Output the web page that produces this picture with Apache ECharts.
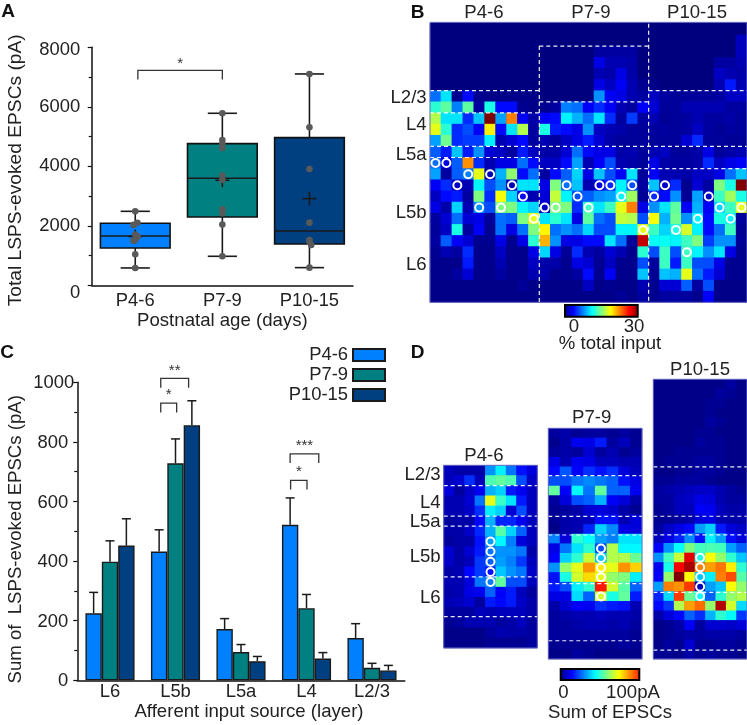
<!DOCTYPE html>
<html><head><meta charset="utf-8">
<style>html,body{margin:0;padding:0;background:#fff}#c{width:747px;height:725px}</style>
<script src="https://cdn.jsdelivr.net/npm/echarts@6/dist/echarts.min.js"></script>
</head><body><div id="c"></div>
<script>
// ---------- Panel A ----------
const ageGroups = ['P4-6','P7-9','P10-15'];
const ageColors = ['#0080ff','#008080','#004080'];
// [x, min, q1, median, q3, max, mean]
const boxP46  = [1, 583, 1255, 1658, 2084, 2487, 1640];
const boxP79  = [2, 975, 2297, 3597, 4762, 5782, 3530];
const boxP1015= [3, 594, 1390, 1826, 4964, 7104, 2913];
const dotsA = [
 [1,2487],[1.025,2100],[0.98,2030],[1,1710],[1.03,1640],[1,1530],[0.98,1500],[1,1042],[1,583],
 [2,5782],[2,4885],[2,4750],[2,4616],[2,3686],[2,3540],[2,2555],[2,2420],[2,2040],[2,975],
 [3,7104],[3,5311],[3,3910],[3,2106],[3,1524],[3,1468],[3.02,1356],[3,594]];
const bracketA = [[1.03,2.0,7227,6914,'*']];

// ---------- Panel C ----------
const layersC = ['L6','L5b','L5a','L4','L2/3'];
const sumP46   = [225,432,172,522,142];
const sumP79   = [398,728,95,242,42];
const sumP1015 = [452,856,64,73,33];
const topP46   = [295,505,207,612,190];
const topP79   = [468,810,120,288,57];
const topP1015 = [542,938,80,93,50];
// [category, fromBar, toBar, top value, bottom value, label]
const bracketsC = [[1,0.1,1.8,1013,982,'**'],[1,0.1,1.07,930,899,'*'],[3,0,1.75,760,729,'***'],[3,0.03,1.03,671,640,'*']];

// ---------- Panel B: % total input, 25 rows x 29 cols ----------
const mapB = [
[0,0,0,0,0,0,0,0,0,0, 0,0,0,0,0,0,0,0,0,0, 0,0,0,0,0,0,0,0,0],
[0,0,0,0,0,0,0,0,0,0, 0,0,0,0,0,0,0,0,0,0, 0,0,0,0,0,0,0,0,1.8],
[0,0,0,0,0,0,0,0,0,0, 0,0,0,0,0,1,1,1,1,0, 0,0,0,0,0,0,0,0,1.8],
[0,0,0,0,0,0,0,0,0,0, 0,0,0,0,0,3,1.5,1.5,1.2,0, 0,0,0,0,0,0,1,1,1.5],
[0,0,0,0,0,0,0,0,0,0, 0,0,0,0,0,1.5,1.2,3,1.2,0, 0,0,0,0,0,0,2,1.5,1.2],
[0,0,0,0,0,0,0,0,0,0, 0,0,0,0,0,3,2,3.5,1.5,0.5, 0.3,0,0,0,0,0,1.5,4.5,1.5],
[7,10.5,0.5,4,0.5,0.3,0.3,0.3,0.3,0.3, 0,0,0,0,0,8,3.5,3,1.5,1, 2,1,0.8,0.8,0.8,0.8,1,2,2],
[12.5,14,7.5,14,1,12,4,4,0.5,0.3, 0.5,1,7.5,7,3.5,5,3.5,1.5,1,3.5, 2.5,0.8,0.8,1.5,1.5,1.5,1.5,1,1],
[16.5,10.5,10.5,5,9.5,30,8.5,22.5,3.5,1.2, 3.5,4,11,9,7,10.5,5,1,5.5,1, 1.5,0.7,0.8,1,1.5,1,1,1.2,0.8],
[18,12.5,5,6,3.5,19.2,4,10.5,16.5,1, 12,4.5,4,3,8,2,1.5,1.2,0.8,0.8, 1,1,0.8,1,2,1,0.7,1,0.8],
[8.5,14.5,5,5.5,5.5,10.8,1.5,2.5,4,1, 1.5,1,2,3,4.5,2.5,1.2,0.8,0.8,0.8, 0.8,0.8,0.8,2.5,5,0.8,0.8,0.7,0.7],
[6.5,4.5,9.5,4.5,8,2.5,2,1,4.5,2, 1.2,1.2,2.5,7,4,3,3,1.2,1.5,0.8, 1.5,2,0.8,0.8,1.2,3,0.8,1.2,1.5],
[7,3,6.5,22,5,1.5,3,3,7,4, 2,2,4,8.5,1.5,3.5,6,1.5,1.2,0.8, 3,1.2,1,1,1.2,5,2,3,3.5],
[8.5,1,6.5,7.5,18,1.5,9,15.5,4,7, 1,4,6.5,10,3,9.5,6,3.5,10.5,0.8, 3.5,1.5,1.5,1.2,2,2,3,7,9.5],
[3.5,5,2,1.5,11,6,8,1.5,10.5,10.5, 3,15,7,9.5,1.5,3,5,11,6,1, 9.5,2,5,0.5,2.5,1,15,12,30],
[2,4,4.5,1,15,5,18.5,10,4,1.5, 2.5,17,11,6,6.5,8,8.5,11,16,0.7, 5,4,8,0.7,8.5,2,13,16,12],
[3,1.2,10,1.5,8,6,15,15,11,10, 2,15,15,5,13,10.5,13,18,22.5,3, 8,10.5,14,3.5,9,3.5,10,13,18],
[1,2.5,7,2.5,3,0.8,7,6.5,15,18, 10.5,12.5,10.5,3,14,7,6,17,16.5,6, 18.5,9,14.5,8,11,4,12,11,0.8],
[0.8,2,12,1,3.5,0.5,7,3,7,15, 19,7,8,7,10,6,6,11,11,18, 13,10,12,17.5,11,4,7,13,0.6],
[1,6.5,3.5,2.5,0.5,0.5,3,0.5,3,12.5, 21,8,3,3,4,4,10.5,7,0.8,28, 11.5,11.5,11,13,15,5.5,8,8,0.7],
[0.6,1.5,1,5,0.4,0.4,2,0.4,0.4,3, 10,3,0.7,5,1.5,1,2.5,1.5,0.4,12.5, 6,13,6,13,11,8,10.5,3,0.5],
[0.4,0.4,0.4,4.5,0.4,0.4,1.5,0.4,0.4,2, 1.2,1.2,0.5,3,2.5,0.6,2,0.5,0.4,6, 1,13,4.5,13,6,6,3,0.5,0.5],
[0.4,0.4,1,2.5,0.4,0.4,1,0.4,0.4,1.5, 1.2,0.4,0.5,1,4,0.5,3.5,0.4,0.4,9.5, 0.6,9.5,9,18,7,4.5,2.5,0.5,0.5],
[0.3,0.3,0.3,0.3,0.3,0.3,0.3,0.3,0.7,0.3, 0.3,0.3,0.3,0.3,2,0.3,0.5,0.3,0.3,1.5, 0.5,2.5,2.5,6.5,1,6,0.3,0.3,0.3],
[0.3,0.3,0.3,0.3,0.3,0.3,0.3,0.3,0.3,0.3, 0.3,0.3,0.3,0.3,0.3,0.3,0.3,0.7,0.3,1, 0.5,1,1,1,0.5,3.5,0.3,0.3,0.3]];
const circlesB = [[0,12],[1,12],[3,13],[5,13],[2,14],[7,14],[12,14],[15,14],[16,14],[18,14],[21,14],[8,15],[13,15],[17,15],[20,15],[25,15],[4,16],[6,16],[10,16],[11,16],[14,16],[26,16],[28,16],[9,17],[24,17],[27,17],[19,18],[22,18],[23,20]];
const dashesB = [[0,6,10,6],[0,8,10,8],[0,11,29,11],[0,12,10,12],[10,2,20,2],[10,7,20,7],[10,13,29,13],[20,6,29,6],[10,2,10,25],[20,0,20,25]];

// ---------- Panel D: sum of EPSCs (pA) ----------
const mapD1 = [
[6,4,4,4,27,36,24,14,9],[6,8,17,6,45,47,45,20,7],[9,3,7,11,30,33,15,11,6],[5,5,8,24,60,43,35,15,6],
[5,5,7,17,36,33,8,20,6],[3,4,4,13,30,16,16,11,6],[4,4,7,16,30,46,33,22,6],[3,4,4,14,28,37,25,9,6],
[8,4,8,15,24,27,27,24,4],[7,4,6,18,22,28,25,18,6],[4,5,13,18,14,32,27,24,7],[5,5,9,24,25,47,20,20,6],
[4,5,10,11,22,12,15,6,3],[5,6,8,3,15,13,15,7,4],[3,3,3,6,5,6,6,6,4],[2,3,5,5,5,3,4,6,3],[1,1,1,1,3,5,4,4,3],[1,1,1,1,2,2,2,2,3]];
const mapD2 = [
[3,4,2,3,3,2,3,2],[1.5,4,11,10,15,3,6,2],[3,4,3,8,3,5,2,3],[10,5,11,10,6,6,5,5],[13,21,12,17,14,17,9,6],
[20,20,24,26,24,22,14,10],[47,12,37,24,47,22,22,11],[3,9,20,22,30,12,9,4],[2,3,4,8,9,8,4,2],[2,4,5,6,14,14,5,9],
[1,4,5,16,33,26,10,9],[25,9,42,38,28,25,35,35],[10,24,35,42,20,55,37,37],[12,33,42,57,32,55,55,48],
[27,52,60,73,64,60,73,67],[14,40,58,66,60,52,50,36],[15,20,36,42,85,58,46,22],[10,10,34,22,58,40,47,15],
[4,8,12,11,17,15,14,5],[3,4,5,5,6,5,5,4],[3,3,4,5,5,4,5,3],[3,3,3,3,3,3,3,2],[2,2,2,2,2,2,3,2],[1,1,3,2,1,1,1,1]];
const mapD3 = [
[1,1,1,1,1,1,1,3,1],[1,1,1,1,1,1,3,2,1],[1,1,1,1,1,2,2,1,1],[1,1,1,1,1,2,1,1,1],[1,1,1,1,1,3,2,1,1],
[1,1,1,1,2,2,1,1,1],[1,1,1,1,3,2,2,1,1],[1,1,2,2,2,2,2,1,1],[1,2,2,2,3,3,2,1,1],[1,1,2,2,3,3,2,1,1],
[2,2,3,3,3,2,1,1,1],[3,4,5,6,7,7,5,3,2],[3,3,6,7,10,9,5,3,3],[2,3,6,6,12,11,6,4,4],[2,2,3,4,9,10,5,4,4],
[3,7,10,13,28,33,15,9,7],[6,10,16,26,14,36,28,14,9],[12,27,38,50,44,45,44,28,22],[27,44,57,90,40,62,52,42,32],
[11,40,88,96,75,72,76,64,42],[12,52,100,63,32,36,75,80,46],[28,75,73,82,6,28,32,62,52],[16,34,82,48,38,22,42,52,55],
[13,18,55,72,77,52,95,58,34],[4,9,13,22,17,30,42,37,18],[1,2,4,12,3,8,8,7,9],[1,2,3,4,3,4,4,4,3],[1,3,2,8,2,2,3,3,2],[2,2,1,4,2,3,2,2,1]];
const circlesD1 = [[4,7],[4,8],[4,9],[4,10],[4,11]];
const circlesD2 = [[4,12],[4,13],[4,14],[4,15],[4,17]];
const circlesD3 = [[4,18],[4,19],[4,20],[4,21],[4,22]];
const dashesD1 = [2,5,6,11,14.9];
const dashesD2 = [4.93,9.16,11.1,16.16,22.1];
const dashesD3 = [9.09,14.2,16.14,22.09,28.07];
const jet = ['#00007f','#0000ff','#007fff','#00ffff','#7fff7f','#ffff00','#ff7f00','#ff0000','#7f0000'];

// ---------- Build ----------
const FF = '"Liberation Sans", Arial, sans-serif';
const TXT = '#222';
const FS = 18.6;
const grids = [
 {left:91.7,top:47.3,width:261.3,height:238},
 {left:77.25,top:382.3,width:327.5,height:298},
 {left:430,top:23.8,width:317,height:278.5},
 {left:443.7,top:465.3,width:93.6,height:182.7},
 {left:548.3,top:428.3,width:93.7,height:230.7},
 {left:653.3,top:379.3,width:93.7,height:279.7}];
const xAxes=[], yAxes=[], series=[], graphics=[];

const axisCommon = {axisLine:{show:true,onZero:false,lineStyle:{color:'#111',width:1.5}},splitLine:{show:false}};
const yTicks = {axisTick:{show:true,length:4,lineStyle:{color:'#111',width:1.2}},minorTick:{show:true,splitNumber:2,length:3,lineStyle:{color:'#111',width:1.2}}};
// A: axes 0 (visible) & 1 (hidden value x)
xAxes.push({...axisCommon,gridIndex:0,type:'category',data:ageGroups,axisTick:{show:false},
  axisLabel:{color:TXT,fontSize:18.4,fontFamily:FF,margin:7},
  name:'Postnatal age (days)',nameLocation:'middle',nameGap:21,nameTextStyle:{color:TXT,fontSize:FS,fontFamily:FF}});
xAxes.push({gridIndex:0,type:'value',min:0.5,max:3.5,show:false});
yAxes.push({...axisCommon,...yTicks,gridIndex:0,type:'value',min:0,max:8000,interval:2000,
  axisLabel:{color:TXT,fontSize:18.4,fontFamily:FF,margin:11.5,formatter:v=>v===0?'{z|0}':(v===8000?'{e|8000}':String(v)),
    rich:{z:{fontSize:18.4,fontFamily:FF,color:TXT,padding:[16,0,0,0]},e:{fontSize:18.4,fontFamily:FF,color:TXT,padding:[6,0,0,0]}}},
  name:'Total LSPS-evoked EPSCs (pA)',nameLocation:'middle',nameGap:66,nameTextStyle:{color:TXT,fontSize:19.2,fontFamily:FF,padding:[0,8,0,0]}});

// C: axes 2
xAxes.push({...axisCommon,gridIndex:1,type:'category',data:layersC,axisTick:{show:false},
  axisLabel:{color:TXT,fontSize:18.4,fontFamily:FF,margin:3},
  name:'Afferent input source (layer)',nameLocation:'middle',nameGap:21,nameTextStyle:{color:TXT,fontSize:FS,fontFamily:FF,padding:[0,0,0,16]}});
yAxes.push({...axisCommon,...yTicks,gridIndex:1,type:'value',min:0,max:1000,interval:200,
  axisLabel:{color:TXT,fontSize:18.4,fontFamily:FF,margin:3,formatter:v=>v===1000?'{k|1000}':'{n|'+v+'}',
    rich:{k:{fontSize:18.4,fontFamily:FF,color:TXT,padding:[2,0,0,0]},n:{fontSize:18.4,fontFamily:FF,color:TXT,padding:[2,6,0,0]}}},
  name:'Sum of  LSPS-evoked EPSCs (pA)',nameLocation:'middle',nameGap:52,nameTextStyle:{color:TXT,fontSize:FS,fontFamily:FF,padding:[0,16,0,0]}});

// Heatmap axes: category pair + hidden value pair per grid
function addMapAxes(gi,cols,rows){
  const xi=xAxes.length, yi=yAxes.length;
  xAxes.push({gridIndex:gi,type:'category',data:Array.from({length:cols},(_,i)=>i),show:false});
  yAxes.push({gridIndex:gi,type:'category',inverse:true,data:Array.from({length:rows},(_,i)=>i),show:false});
  xAxes.push({gridIndex:gi,type:'value',min:0,max:cols,show:false});
  yAxes.push({gridIndex:gi,type:'value',inverse:true,min:0,max:rows,show:false});
  return {xi,yi};
}
const segRender = (params,api)=>{
  const a=api.coord([api.value(0),api.value(1)]), b=api.coord([api.value(2),api.value(3)]);
  return {type:'line',shape:{x1:a[0],y1:a[1],x2:b[0],y2:b[1]},style:{stroke:'rgba(255,255,255,0.92)',lineWidth:1.2,lineDash:[4,3],fill:null}};
};
const frameRender = (params,api)=>{
  const a=api.coord([0,api.value(1)]), b=api.coord([api.value(0),api.value(2)]);
  return {type:'rect',shape:{x:a[0],y:a[1],width:b[0]-a[0],height:b[1]-a[1]},style:{stroke:'#6c6cc4',lineWidth:1,fill:null}};
};
const backdropRender = (p,api)=>{
  const a=api.coord([0,api.value(1)]),b=api.coord([api.value(0),api.value(2)]);
  return {type:'rect',shape:{x:a[0],y:a[1],width:b[0]-a[0],height:b[1]-a[1]},style:{fill:jet[0]}};
};
let vmList=[];
function addMap(gi,matrix,circles,segs,maxV,top){
  const rows=matrix.length, cols=matrix[0].length;
  const {xi,yi}=addMapAxes(gi,cols,rows);
  series.push({type:'custom',xAxisIndex:xi+1,yAxisIndex:yi+1,silent:true,clip:false,data:[[cols,top,rows]],renderItem:backdropRender});
  const data=[];
  matrix.forEach((row,r)=>row.forEach((v,c)=>data.push([c,r,v])));
  vmList.push({show:false,type:'continuous',min:0,max:maxV,seriesIndex:series.length,dimension:2,inRange:{color:jet}});
  series.push({type:'heatmap',xAxisIndex:xi,yAxisIndex:yi,data,silent:true,progressive:0,itemStyle:{borderWidth:0}});
  series.push({type:'custom',xAxisIndex:xi+1,yAxisIndex:yi+1,silent:true,clip:false,data:segs,renderItem:segRender,encode:{x:[0,2],y:[1,3]}});
  series.push({type:'custom',xAxisIndex:xi+1,yAxisIndex:yi+1,silent:true,clip:false,data:[[cols,top,rows]],renderItem:frameRender});
  series.push({type:'scatter',xAxisIndex:xi+1,yAxisIndex:yi+1,silent:true,symbolSize:8,
    data:circles.map(p=>[p[0]+0.5,p[1]+0.5]),itemStyle:{color:'rgba(0,0,0,0)',borderColor:'#fff',borderWidth:2,opacity:1}});
}
const rowDashes=(rows,cols)=>rows.map(y=>[0,y,cols,y]);

// A series
series.push({type:'custom',xAxisIndex:1,yAxisIndex:0,silent:true,clip:false,
  data:[boxP46,boxP79,boxP1015],encode:{x:0,y:[1,2,3,4,5,6]},
  renderItem:(p,api)=>{
    const x=api.value(0), W=api.size([0.8,0])[0]/2, C=api.size([0.335,0])[0]/2;
    const c=v=>api.coord([x,v]);
    const [mn,q1,md,q3,mx,mean]=[1,2,3,4,5,6].map(i=>c(api.value(i)));
    const cx=mn[0], st={stroke:'#1a1a1a',lineWidth:1.6,fill:null};
    const ln=(x1,y1,x2,y2,s)=>({type:'line',shape:{x1,y1,x2,y2},style:s||st});
    return {type:'group',children:[
      ln(cx,mn[1],cx,q1[1]),ln(cx,q3[1],cx,mx[1]),ln(cx-C,mn[1],cx+C,mn[1]),ln(cx-C,mx[1],cx+C,mx[1]),
      {type:'rect',shape:{x:cx-W,y:q3[1],width:2*W,height:q1[1]-q3[1]},style:{fill:ageColors[p.dataIndex],stroke:'#111',lineWidth:1.6}},
      ln(cx-W,md[1],cx+W,md[1]),
      ln(cx-7,mean[1],cx+7,mean[1]),ln(cx,mean[1]-7,cx,mean[1]+7)
    ]};
  }});
series.push({type:'scatter',xAxisIndex:1,yAxisIndex:0,silent:true,data:dotsA,symbolSize:6.6,itemStyle:{color:'#595959',opacity:1}});
const bracketStyle={stroke:'#333',lineWidth:1.3,fill:null};
series.push({type:'custom',xAxisIndex:1,yAxisIndex:0,silent:true,clip:false,data:bracketA,encode:{x:[0,1],y:[2,3]},
  renderItem:(p,api)=>{
    const a=api.coord([api.value(0),api.value(3)]),t=api.coord([api.value(0),api.value(2)]),b=api.coord([api.value(1),api.value(3)]);
    return {type:'group',children:[
      {type:'polyline',shape:{points:[[a[0],a[1]],[t[0],t[1]],[b[0],t[1]],[b[0],b[1]]]},style:bracketStyle},
      {type:'text',x:(a[0]+b[0])/2,y:t[1]-6,style:{text:bracketA[p.dataIndex][4],fill:'#333',font:'15px '+FF,align:'center',verticalAlign:'middle',textAlign:'center',textVerticalAlign:'middle'}}
    ]};
  }});

// C series
[[sumP46,ageColors[0]],[sumP79,ageColors[1]],[sumP1015,ageColors[2]]].forEach((s,i)=>{
  series.push({type:'bar',name:ageGroups[i],xAxisIndex:2,yAxisIndex:1,data:s[0],barWidth:'25%',barGap:'0%',silent:true,
    itemStyle:{color:s[1],borderColor:'#1a1a1a',borderWidth:1.4}});
});
const errC=[];
[topP46,topP79,topP1015].forEach((arr,s)=>arr.forEach((t,c)=>errC.push([c,s,t,[sumP46,sumP79,sumP1015][s][c]])));
series.push({type:'custom',xAxisIndex:2,yAxisIndex:1,silent:true,clip:false,data:errC,encode:{x:0,y:[2,3]},
  renderItem:(p,api)=>{
    const band=api.size([1,0])[0], t=api.coord([api.value(0),api.value(2)]), b=api.coord([api.value(0),api.value(3)]);
    const x=t[0]+(api.value(1)-1)*0.25*band, st={stroke:'#1a1a1a',lineWidth:1.5,fill:null};
    return {type:'group',children:[
      {type:'line',shape:{x1:x,y1:t[1],x2:x,y2:b[1]},style:st},
      {type:'line',shape:{x1:x-4.5,y1:t[1],x2:x+4.5,y2:t[1]},style:st}]};
  }});
series.push({type:'custom',xAxisIndex:2,yAxisIndex:1,silent:true,clip:false,data:bracketsC,encode:{x:0,y:[3,4]},
  renderItem:(p,api)=>{
    const band=api.size([1,0])[0], t=api.coord([api.value(0),api.value(3)]), b=api.coord([api.value(0),api.value(4)]);
    const x1=t[0]+(api.value(1)-1)*0.25*band, x2=t[0]+(api.value(2)-1)*0.25*band;
    return {type:'group',children:[
      {type:'polyline',shape:{points:[[x1,b[1]],[x1,t[1]],[x2,t[1]],[x2,b[1]]]},style:bracketStyle},
      {type:'text',x:(x1+x2)/2,y:t[1]-8,style:{text:bracketsC[p.dataIndex][5],fill:'#333',font:'15px '+FF,align:'center',verticalAlign:'middle',textAlign:'center',textVerticalAlign:'middle'}}
    ]};
  }});

// Heatmaps
addMap(2,mapB,circlesB,dashesB,30,-0.13);
addMap(3,mapD1,circlesD1,rowDashes(dashesD1,9),100,0);
addMap(4,mapD2,circlesD2,rowDashes(dashesD2,8),100,0);
addMap(5,mapD3,circlesD3,rowDashes(dashesD3,9),100,0);

// Free text
function T(text,x,y,o={}){
  graphics.push({type:'text',x,y,silent:true,z:100,style:{text,fill:o.fill||TXT,font:(o.bold?'bold ':'')+(o.size||FS)+'px '+FF,
    align:o.align||'center',verticalAlign:'middle',textAlign:o.align||'center',textVerticalAlign:'middle'}});
}
T('A',8,12,{bold:true,size:19,fill:'#111'});T('B',417.5,13,{bold:true,size:19,fill:'#111'});
T('C',7,353,{bold:true,size:19,fill:'#111'});T('D',417.5,353,{bold:true,size:19,fill:'#111'});
T('P4-6',484,13);T('P7-9',591,13);T('P10-15',697,13);
[['L2/3',98],['L4',125],['L5a',154.5],['L5b',213],['L6',265]].forEach(l=>T(l[0],426.7,l[1],{align:'right'}));
[['L2/3',475],['L4',502.7],['L5a',522.3],['L5b',556.7],['L6',598.3]].forEach(l=>T(l[0],440.7,l[1],{align:'right'}));
T('P4-6',484,456);T('P7-9',591.7,418.3);T('P10-15',700,370);
T('0',574,326.7);T('30',634,326.7);T('% total input',610,344);
T('0',563.3,693.3);T('100pA',633,693.3);T('Sum of EPSCs',610,712.7);
const bar=(x,y,w,h,stops)=>graphics.push({type:'rect',silent:true,z:100,shape:{x,y,width:w,height:h},
  style:{fill:{type:'linear',x:0,y:0,x2:1,y2:0,colorStops:stops},stroke:'#000',lineWidth:2}});
bar(565,305,72.7,11.7,jet.map((c,i)=>({offset:i/8,color:c})));
bar(560.7,669,78.6,11,[[0,'#00007f'],[0.147,'#0000ff'],[0.294,'#007fff'],[0.441,'#00ffff'],[0.588,'#7fff7f'],[0.735,'#ffff00'],[0.882,'#ff7f00'],[1,'#ff2000']].map(s=>({offset:s[0],color:s[1]})));

const chart=echarts.init(document.getElementById('c'),null,{renderer:'canvas'});
chart.setOption({
  animation:false,backgroundColor:'#fff',grid:grids,xAxis:xAxes,yAxis:yAxes,series,visualMap:vmList,graphic:{elements:graphics},
  tooltip:{show:false},
  legend:{orient:'vertical',align:'right',right:361,top:346,padding:0,itemWidth:32,itemHeight:12,itemGap:2,selectedMode:false,icon:'rect',
    data:ageGroups,textStyle:{color:TXT,fontSize:18.4,fontFamily:FF}}
});
</script></body></html>
